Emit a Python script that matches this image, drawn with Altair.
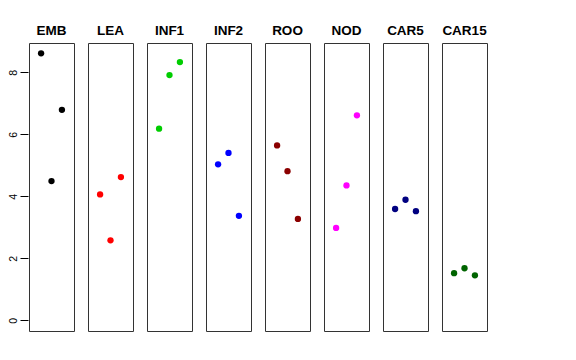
import altair as alt
import pandas as pd

groups = ["EMB", "LEA", "INF1", "INF2", "ROO", "NOD", "CAR5", "CAR15"]
colors = ["#000000", "#FF0000", "#00CD00", "#0000FF", "#8B0000", "#FF00FF", "#000080", "#006400"]
positions = [1, 2, 3]

emb = [8.61, 4.49, 6.79]
lea = [4.06, 2.58, 4.62]
inf1 = [6.18, 7.91, 8.33]
inf2 = [5.03, 5.40, 3.37]
roo = [5.64, 4.81, 3.27]
nod = [2.98, 4.35, 6.61]
car5 = [3.59, 3.89, 3.52]
car15 = [1.52, 1.68, 1.45]

series = [emb, lea, inf1, inf2, roo, nod, car5, car15]

rows = []
for g, vals in zip(groups, series):
    for p, v in zip(positions, vals):
        rows.append({"group": g, "pos": p, "value": v})
df = pd.DataFrame(rows)

base = alt.Chart(df).mark_circle(size=40, opacity=1).encode(
    x=alt.X("pos:Q", scale=alt.Scale(domain=[-0.16, 4.16], nice=False, zero=False), axis=None),
    y=alt.Y(
        "value:Q",
        scale=alt.Scale(domain=[-0.344, 8.944], nice=False, zero=False),
        axis=alt.Axis(
            values=[0, 2, 4, 6, 8],
            title=None,
            grid=False,
            domain=False,
            tickSize=8,
            tickColor="black",
            labelAngle=270,
            labelFontSize=10.5,
            labelFont="Liberation Sans",
            labelColor="black",
            labelPadding=2,
        ),
    ),
    color=alt.Color("group:N", scale=alt.Scale(domain=groups, range=colors), legend=None),
).properties(width=45, height=288)

chart = base.facet(
    column=alt.Column(
        "group:N",
        sort=groups,
        title="",
        header=alt.Header(
            labelFont="Liberation Sans",
            labelFontWeight="bold",
            labelFontSize=13.5,
            labelPadding=5,
            labelColor="black",
        ),
    )
).configure_facet(spacing=12).configure_view(stroke="#333333", strokeWidth=1).properties(
    padding={"left": 0, "top": 15, "right": 5, "bottom": 5},
)

chart.save("out.html", embed_options={"renderer": "svg", "actions": False})
